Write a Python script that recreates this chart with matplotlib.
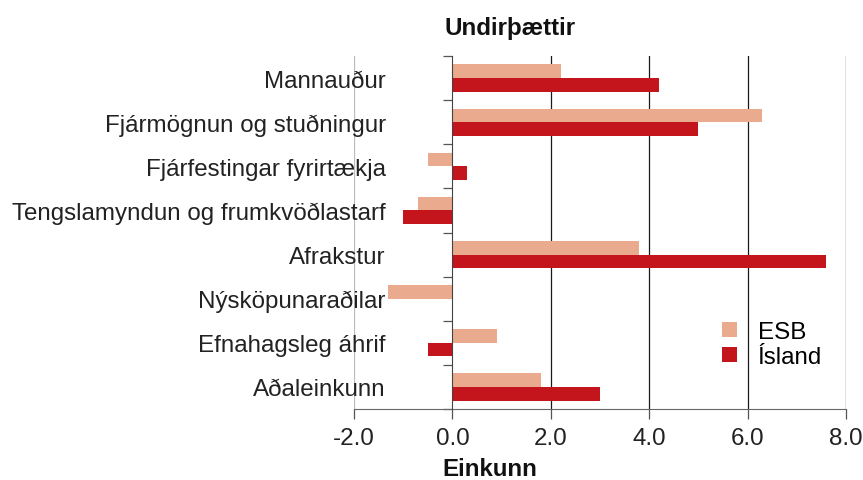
import matplotlib
matplotlib.use("Agg")
import matplotlib.pyplot as plt
import numpy as np

categories = ["Mannauður", "Fjármögnun og stuðningur", "Fjárfestingar fyrirtækja",
              "Tengslamyndun og frumkvöðlastarf", "Afrakstur", "Nýsköpunaraðilar",
              "Efnahagsleg áhrif", "Aðaleinkunn"]
esb = [2.2, 6.3, -0.5, -0.7, 3.8, -1.3, 0.9, 1.8]
island = [4.2, 5.0, 0.3, -1.0, 7.6, 0.0, -0.5, 3.0]
xticks = [-2.0, 0.0, 2.0, 4.0, 6.0, 8.0]
xticklabels = ["-2.0", "0.0", "2.0", "4.0", "6.0", "8.0"]

plt.rcParams['font.family'] = ['Liberation Sans', 'DejaVu Sans']
FS = 17.4

W, H = 863, 481
fig = plt.figure(figsize=(W/100, H/100), dpi=100)
ax = fig.add_axes([354/W, 1-410/H, (846-354)/W, (410-57)/H])

n = len(categories)
ypos = np.arange(n)[::-1].astype(float)
bh = 0.31
c_esb = "#EAAA8E"
c_isl = "#C3151B"
ax.barh(ypos + bh/2, esb, height=bh, color=c_esb, label="ESB", zorder=3)
ax.barh(ypos - bh/2, island, height=bh, color=c_isl, label="Ísland", zorder=3)

ax.set_xlim(-2, 8)
ax.set_ylim(-0.5, n-0.5)

for s in ["top", "right"]:
    ax.spines[s].set_visible(False)
ax.spines["left"].set_position(("data", 0))
ax.spines["left"].set_color("#444444")
ax.spines["left"].set_zorder(4)
ax.spines["bottom"].set_color("#666666")

for xv in xticks:
    if xv == -2.0:
        ax.axvline(xv, color="#BBBBBB", lw=0.9, zorder=1)
    elif xv != 0.0:
        ax.axvline(xv, color="#1a1a1a", lw=0.9, zorder=1)

ax.set_xticks(xticks)
ax.set_xticklabels(xticklabels, fontsize=FS, color="#222222")
ax.tick_params(axis="x", length=7, width=0.9, color="#555555", pad=6)

ax.set_yticks(ypos)
ax.set_yticklabels(categories, fontsize=FS, color="#222222")
ax.tick_params(axis="y", which="major", length=0, pad=48)
ax.set_yticks(np.arange(n+1) - 0.5, minor=True)
ax.tick_params(axis="y", which="minor", length=6.5, width=0.9, color="#555555")

fig.text(510/W, 1-35/H, "Undirþættir", ha="center", va="baseline",
         fontsize=FS, fontweight="bold", color="#111111")
fig.text(490/W, 1-476/H, "Einkunn", ha="center", va="baseline",
         fontsize=FS, fontweight="bold", color="#111111")

ax.legend(loc="upper left", bbox_to_anchor=((722-354)/(846-354), 1-(322-57)/(410-57)),
          frameon=False, handlelength=0.62, handleheight=0.62,
          handletextpad=0.85, labelspacing=0.12, borderpad=0, borderaxespad=0,
          prop={"size": FS})

fig.savefig("out.png", dpi=100)
